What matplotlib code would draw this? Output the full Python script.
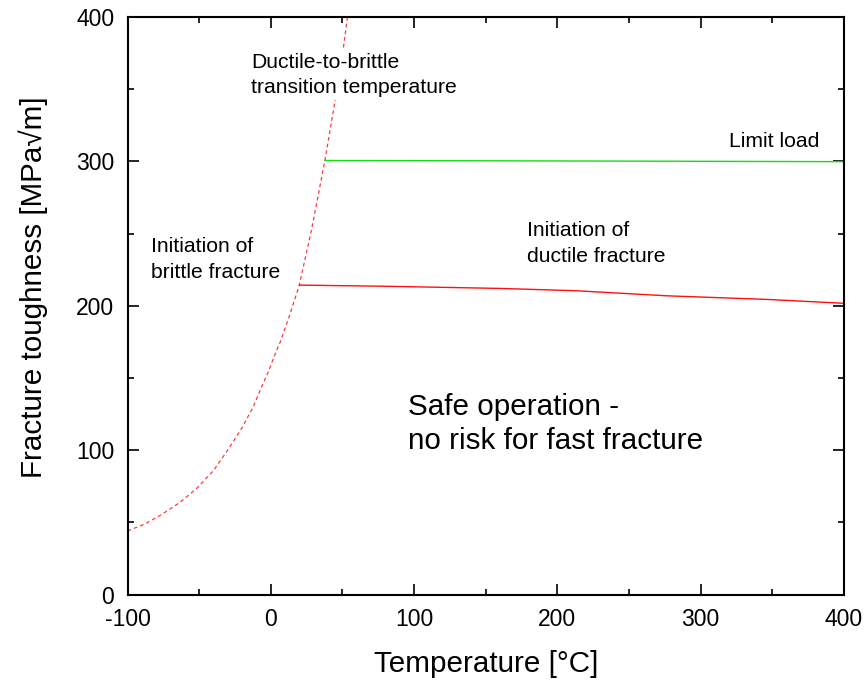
import matplotlib
matplotlib.use("Agg")
import matplotlib.pyplot as plt
from matplotlib.ticker import MultipleLocator

plt.rcParams['font.family'] = ['Liberation Sans', 'DejaVu Sans']
plt.rcParams['axes.unicode_minus'] = False

# Ductile-to-brittle transition curve (dotted red)
dbtt_x = [-100, -88, -76, -63.4, -51.7, -40.1, -30.8, -20.3, -12.2, -6.4, -1.7, 4.1, 6.4,
          13, 19.9, 28.5, 37.8, 44.5, 49.5, 53.5]
dbtt_y = [44, 48.8, 55.5, 63.8, 73.5, 85.7, 98.9, 115.1, 130.1, 143.9, 154.3, 169.3, 174.4,
          193, 214.3, 253, 300.9, 340, 370, 400]

# Initiation of ductile fracture (solid red)
ductile_x = [20, 80, 160, 213, 276, 346, 400]
ductile_y = [214.3, 213.5, 212.0, 210.4, 206.9, 204.4, 201.7]

# Limit load (solid green)
limit_x = [37.8, 200, 400]
limit_y = [300.6, 300.3, 299.8]

x_ticks = [-100, 0, 100, 200, 300, 400]
y_ticks = [0, 100, 200, 300, 400]

W, H = 867, 682
fig = plt.figure(figsize=(W / 100, H / 100), dpi=100)
L, R, T, B = 127.5, 844, 17, 594.5
ax = fig.add_axes([L / W, 1 - B / H, (R - L) / W, (B - T) / H])

ax.plot(dbtt_x, dbtt_y, color='#ff3a3a', lw=0.9, linestyle=(0, (3, 2.4)))
ax.plot(ductile_x, ductile_y, color='#ff1010', lw=1.0)
ax.plot(limit_x, limit_y, color='#10e010', lw=1.0)

ax.set_xlim(-100, 400)
ax.set_ylim(0, 400)
ax.set_xticks(x_ticks)
ax.set_yticks(y_ticks)
ax.xaxis.set_minor_locator(MultipleLocator(50))
ax.yaxis.set_minor_locator(MultipleLocator(50))
ax.tick_params(which='both', direction='in', top=True, right=True, width=1.2, colors='black')
ax.tick_params(which='major', length=8, labelsize=16.5, pad=9.5)
ax.tick_params(which='minor', length=4.3)
for s in ax.spines.values():
    s.set_linewidth(1.5)

fig.text(486 / W, 1 - 672 / H, 'Temperature [°C]', ha='center', va='baseline', fontsize=21.3)
fig.text(33 / W, 1 - 287 / H, 'Fracture toughness [MPa√m]', ha='center', va='center',
         rotation=90, fontsize=21.3)

small = 15.2
ax.text(-13.5, 347.1, 'Ductile-to-brittle\ntransition temperature', fontsize=small,
        ha='left', va='baseline', linespacing=1.44,
        bbox=dict(facecolor='white', edgecolor='none', pad=2))
ax.text(-83.4, 219.4, 'Initiation of\nbrittle fracture', fontsize=small,
        ha='left', va='baseline', linespacing=1.44)
ax.text(319.6, 310.1, 'Limit load', fontsize=small, ha='left', va='baseline')
ax.text(178.8, 230.5, 'Initiation of\nductile fracture', fontsize=small,
        ha='left', va='baseline', linespacing=1.44)
ax.text(95.8, 100.7, 'Safe operation -\nno risk for fast fracture', fontsize=21.3,
        ha='left', va='baseline', linespacing=1.29)

fig.savefig('out.png', dpi=100)
